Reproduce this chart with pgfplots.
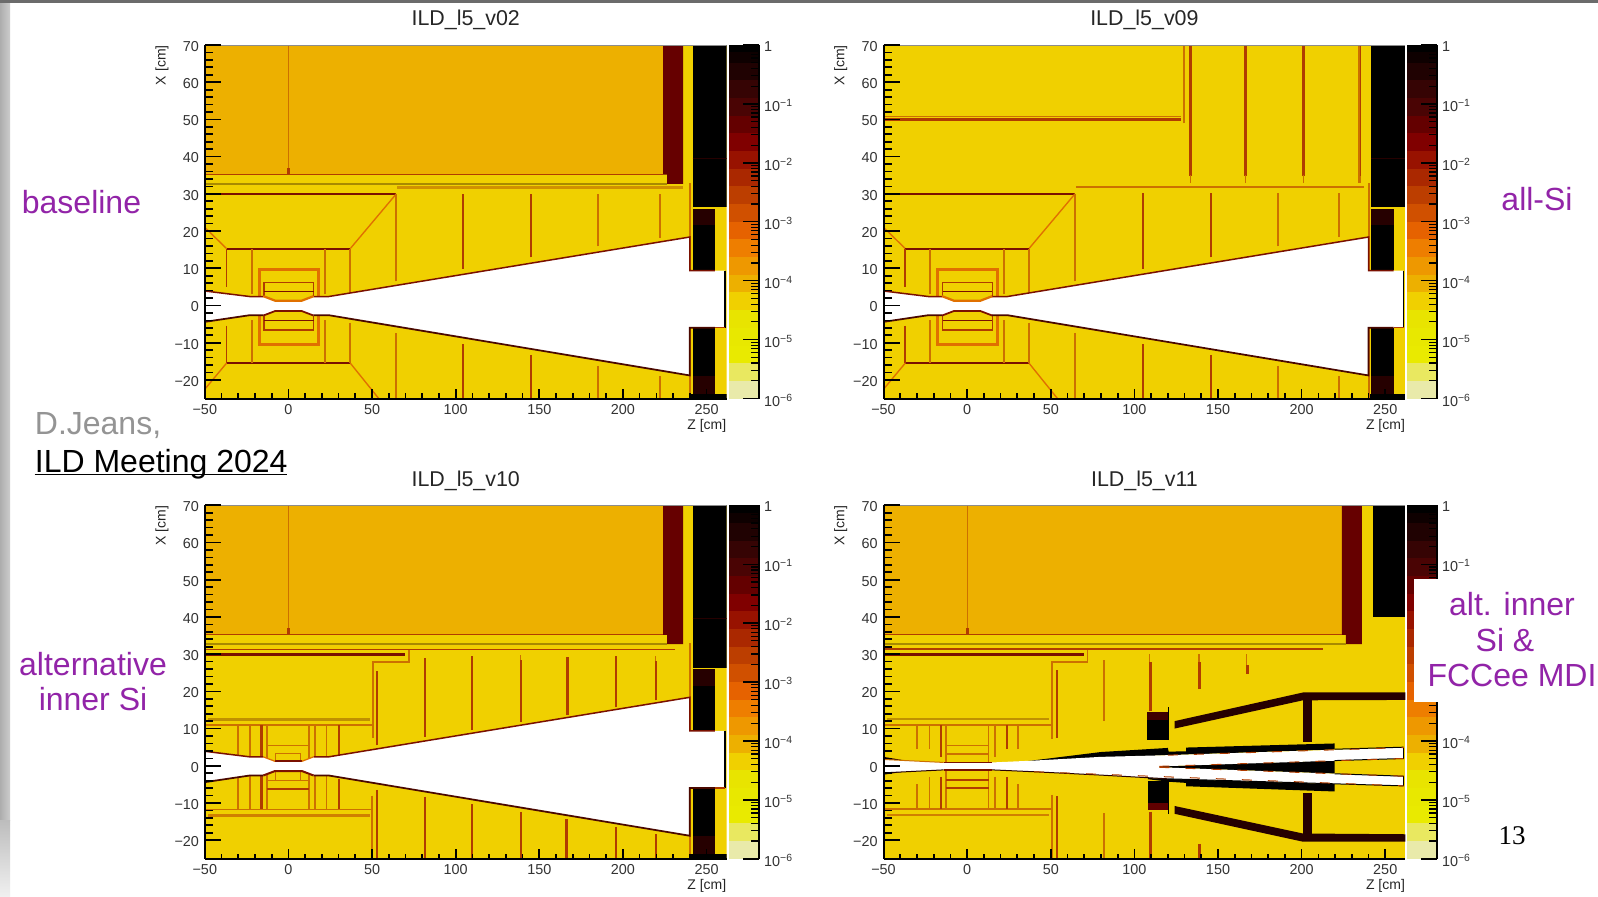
\documentclass[border=0pt]{standalone}
\usepackage{fontspec}
\setmainfont{Liberation Sans}
\newfontfamily\serifnum{Liberation Serif}
\usepackage{pgfplots}
\pgfplotsset{compat=1.18}
\definecolor{Y}{HTML}{F0D000}
\definecolor{O}{HTML}{EDB000}
\definecolor{R}{HTML}{660000}
\definecolor{La}{HTML}{CC7000}
\definecolor{Lb}{HTML}{B03C00}
\definecolor{Lc}{HTML}{7A1000}
\definecolor{Lo}{HTML}{E07000}
\definecolor{Ol}{HTML}{A88A00}
\definecolor{Kd}{HTML}{260000}
\definecolor{Ke}{HTML}{4A0800}
\definecolor{Pur}{HTML}{9224A8}
\newcommand{\blk}[2]{\addplot[fill=#1,draw=none,forget plot] coordinates {#2};}
\newcommand{\lin}[3]{\addplot[draw=#1,line width=1.25*#2,forget plot] coordinates {#3};}
\newcommand{\vl}[5]{\addplot[draw=#1,line width=1.25*#2,forget plot] coordinates {(#3,#4)(#3,#5)};}
\newcommand{\ex}[1]{10\raisebox{0.62ex}{\fontsize{5.2}{6}\selectfont #1}}
\pgfplotsset{
 panel/.style={
  scale only axis, width=260.9pt, height=176.75pt, anchor=north west,
  xmin=-50, xmax=262, ymin=-25, ymax=70,
  axis x line=bottom, axis y line=left, axis on top,
  axis line style={-,line width=1pt,black},
  tick align=inside,
  xtick={-50,0,50,100,150,200,250},
  xticklabels={−50,0,50,100,150,200,250},
  ytick={-20,-10,0,10,20,30,40,50,60,70},
  yticklabels={−20,−10,0,10,20,30,40,50,60,70},
  minor x tick num=4, minor y tick num=4,
  xtick style={black,line width=.85pt,/pgfplots/major tick length=5pt,/pgfplots/minor tick length=2.6pt},
  ytick style={black,line width=.85pt,/pgfplots/major tick length=8pt,/pgfplots/minor tick length=4pt},
  minor x tick style={black,line width=.85pt},
  minor y tick style={black,line width=.85pt},
  tick label style={font=\fontsize{7.2}{8}\selectfont,text=black!80},
  xticklabel style={yshift=.5pt},
  yticklabel style={xshift=.6pt,yshift=-.7pt},
  title style={font=\fontsize{10.7}{12}\selectfont,at={(rel axis cs:0.5,1)},anchor=south,yshift=-2.1pt,text=black!85},
  xlabel={Z [cm]}, ylabel={X [cm]},
  every axis x label/.style={at={(rel axis cs:1,0)},anchor=north east,inner sep=0pt,yshift=-10pt,font=\fontsize{7}{8}\selectfont,text=black!85},
  every axis y label/.style={at={(rel axis cs:0,1)},rotate=90,anchor=east,inner sep=0pt,yshift=21.4pt,font=\fontsize{7}{8}\selectfont,text=black!85},
 },
 colbar/.style={
  scale only axis, width=15.2pt, height=176.75pt, anchor=north west,
  xmin=0, xmax=1, ymin=1e-6, ymax=1,
  hide x axis, axis y line=right, axis on top,
  axis line style={-,line width=.7pt,black},
  tick align=inside,
  ytick={1e-6,1e-5,1e-4,1e-3,1e-2,1e-1,1},
  yticklabels={\ex{−6},\ex{−5},\ex{−4},\ex{−3},\ex{−2},\ex{−1},1},
  ytick style={black,line width=.7pt,/pgfplots/major tick length=8pt,/pgfplots/minor tick length=4pt},
  minor y tick style={black,line width=.6pt},
  tick label style={font=\fontsize{7.2}{8}\selectfont,text=black!80},
  yticklabel style={xshift=-1pt,yshift=-.8pt},
 }
}
\newcommand{\band}[3]{\addplot[fill=#1,draw=none,forget plot] coordinates {(0,#2)(1,#2)(1,#3)(0,#3)};}
\definecolor{qa}{HTML}{E9EAAA}\definecolor{qb}{HTML}{E9E860}\definecolor{qc}{HTML}{E9EA00}
\definecolor{qd}{HTML}{E8E800}\definecolor{qe}{HTML}{E8E400}\definecolor{qf}{HTML}{F0D000}
\definecolor{qg}{HTML}{EDB000}\definecolor{qh}{HTML}{EE9800}\definecolor{qi}{HTML}{EE7E00}
\definecolor{qj}{HTML}{E66200}\definecolor{qk}{HTML}{D05000}\definecolor{ql}{HTML}{BC3E00}
\definecolor{qm}{HTML}{AA2800}\definecolor{qn}{HTML}{981200}\definecolor{qo}{HTML}{800000}
\definecolor{qp}{HTML}{640000}\definecolor{qq}{HTML}{4A0404}\definecolor{qr}{HTML}{360404}
\definecolor{qs}{HTML}{200202}\definecolor{qt}{HTML}{0E0000}
\newcommand{\bars}{%
 \band{qa}{1e-6}{1.995e-6}
 \band{qb}{1.995e-6}{3.98e-6}
 \band{qc}{3.98e-6}{7.94e-6}
 \band{qd}{7.94e-6}{1.585e-5}
 \band{qe}{1.585e-5}{3.16e-5}
 \band{qf}{3.16e-5}{6.31e-5}
 \band{qg}{6.31e-5}{1.26e-4}
 \band{qh}{1.26e-4}{2.51e-4}
 \band{qi}{2.51e-4}{5.01e-4}
 \band{qj}{5.01e-4}{1e-3}
 \band{qk}{1e-3}{1.995e-3}
 \band{ql}{1.995e-3}{3.98e-3}
 \band{qm}{3.98e-3}{7.94e-3}
 \band{qn}{7.94e-3}{1.585e-2}
 \band{qo}{1.585e-2}{3.16e-2}
 \band{qp}{3.16e-2}{6.31e-2}
 \band{qq}{6.31e-2}{0.126}
 \band{qr}{0.126}{0.251}
 \band{qs}{0.251}{0.501}
 \band{qt}{0.501}{0.75}
 \band{black}{0.75}{1}
}
% outer calorimeter region with orange fill (v02, v10, v11)
\newcommand{\topcal}{%
 \blk{O}{(-50,35.2)(224,35.2)(224,70)(-50,70)}
 \blk{R}{(224,70)(236,70)(236,32.7)(226.5,32.7)(226.5,35.2)(224,35.2)}
 \vl{La}{.5pt}{0}{35.2}{70}
 \vl{Lb}{1.2pt}{0}{35.2}{37}
 \lin{Lb}{.5pt}{(-50,35.2)(224,35.2)}
 \lin{Ol}{.6pt}{(-50,32.7)(226.5,32.7)}
}
\newcommand{\topedge}{\addplot[draw=black!45,line width=.5pt,forget plot] coordinates {(-50,70)(262,70)};}
% end-cap blocks and white beam pipe (v02, v09, v10)
\newcommand{\ecap}{%
 \blk{black}{(241.7,26.4)(262,26.4)(262,70)(241.7,70)}
 \lin{Kd}{.3pt}{(241.7,39.5)(262,39.5)}
 \blk{Kd}{(241.7,21.5)(255,21.5)(255,25.9)(241.7,25.9)}
 \blk{black}{(241.7,9.6)(255,9.6)(255,21.5)(241.7,21.5)}
 \blk{black}{(241.7,-6)(255,-6)(255,-19)(241.7,-19)}
 \blk{Kd}{(241.7,-19)(255,-19)(255,-23.7)(241.7,-23.7)}
 \blk{black}{(240,-23.8)(262,-23.8)(262,-25)(240,-25)}
 \vl{La}{.8pt}{240}{9.4}{33}
 \vl{La}{.8pt}{240}{-6}{-25}
 \blk{white}{(-50,3.9)(-23,2.4)(-15,2.4)(-8,1.2)(8,1.2)(15,2.4)(24,2.4)(240,18.4)(240,9.4)(261,9.4)(261,-6)(240,-6)(240,-18.8)(24,-2.6)(15,-2.6)(8,-1.4)(-8,-1.4)(-15,-2.6)(-23,-2.6)(-50,-4.4)}
 \lin{Lc}{.6pt}{(-50,3.9)(-23,2.4)(-15,2.4)}
 \lin{Lc}{.6pt}{(15,2.4)(24,2.4)(240,18.4)(240,9.4)(255,9.4)}
 \lin{Ke}{.7pt}{(-50,-4.4)(-23,-2.6)(-15,-2.6)}
 \lin{Ke}{.7pt}{(15,-2.6)(24,-2.6)(240,-18.8)(240,-6)(255,-6)}
 \lin{black}{.5pt}{(261,9.4)(261,-6)}
 \lin{Lb}{.5pt}{(255,-6)(261,-6)}
 \topedge
}
% baseline inner detector (v02, v09)
\newcommand{\vxdA}{%
 \lin{Lc}{.8pt}{(-48.7,30)(64.5,30)}
 \lin{Lo}{.55pt}{(-50,21)(-37,15.3)}
 \lin{Lo}{.55pt}{(37,15.3)(64.5,30)}
 \lin{Lc}{.8pt}{(-37,15.3)(37,15.3)}
 \lin{Lc}{.8pt}{(-37,-15.5)(37,-15.5)}
 \lin{Lo}{.55pt}{(-37,-15.5)(-50,-22.5)}
 \lin{Lo}{.55pt}{(37,-15.5)(54,-25)}
 \vl{Lb}{.7pt}{-37}{5}{15.3}
 \vl{La}{.7pt}{-22}{3}{15.3}
 \vl{La}{.7pt}{22}{3}{15.3}
 \vl{La}{.7pt}{37}{2.8}{15.3}
 \vl{Lb}{.7pt}{-37}{-5.4}{-15.5}
 \vl{La}{.7pt}{-22}{-4}{-15.5}
 \vl{La}{.7pt}{22}{-4}{-15.5}
 \vl{La}{.7pt}{37}{-4.6}{-15.5}
 \vl{La}{.7pt}{64.5}{6.5}{30}
 \vl{La}{.7pt}{64.5}{-7.4}{-25}
 \lin{Lo}{1.1pt}{(-17.5,2.6)(-17.5,9.7)(18,9.7)(18,2.6)}
 \lin{Lo}{1.1pt}{(-17.5,-2.8)(-17.5,-10.4)(18,-10.4)(18,-2.8)}
 \lin{Lb}{.55pt}{(-14.7,2.6)(-14.7,6.1)(15,6.1)(15,2.6)}
 \lin{Lc}{.6pt}{(-14.7,3.7)(15,3.7)}
 \lin{Lb}{.55pt}{(-14.7,-2.8)(-14.7,-6.6)(15,-6.6)(15,-2.8)}
 \lin{Lc}{.6pt}{(-14.7,-4.1)(15,-4.1)}
}
\newcommand{\vxdApipe}{%
 \lin{Lo}{.9pt}{(-15,2.5)(-8,1.3)(8,1.3)(15,2.5)}
 \lin{Lc}{.7pt}{(-15,-2.7)(-8,-1.5)(8,-1.5)(15,-2.7)}
}
\definecolor{Ca}{HTML}{C09000}
\definecolor{Da}{HTML}{D08000}
\definecolor{Db}{HTML}{D09000}
\definecolor{Ka}{HTML}{400000}
\definecolor{Kb}{HTML}{600000}
% alternative inner silicon, common part (v10, v11)
\newcommand{\vxdB}{%
 \lin{Lb}{.55pt}{(-50,31.2)(231,31.2)}
 \lin{Lc}{1.1pt}{(-49,30)(70,30)}
 \lin{La}{.7pt}{(72,31)(72,27.8)(50.5,27.8)(50.5,7.4)}
 \vl{Lb}{1pt}{53}{5.5}{25.5}
 \vl{La}{1pt}{50}{-8}{-25}
 \vl{Lb}{1pt}{53}{-6.5}{-25}
 \lin{Ca}{1pt}{(-48,12.5)(49,12.5)}
 \lin{La}{.6pt}{(-50,11)(50.5,11)}
 \lin{La}{.6pt}{(-50,-11.7)(50.5,-11.7)}
 \lin{Da}{1pt}{(-48,-13.3)(49,-13.3)}
}
\begin{document}
\begin{tikzpicture}[x=0.5pt,y=-0.5pt]
\path[use as bounding box,fill=white] (0,0) rectangle (1598,896);
\fill[left color=black!32,right color=black!20] (0,0) rectangle (10,820);
\fill[top color=black!26,bottom color=black!6] (0,820) rectangle (10,896);
\fill[black!58] (0,0) rectangle (1598,3);

% ---------- v02
\begin{axis}[panel,at={(102.4pt,-22.5pt)},title={ILD\_l5\_v02}]
 \blk{Y}{(-50,-25)(262,-25)(262,70)(-50,70)}
 \topcal
 \lin{Db}{1pt}{(65,31.7)(236,31.7)}
 \vl{Lb}{.7pt}{104.5}{9.9}{30}
 \vl{Lb}{.7pt}{145}{12.9}{30}
 \vl{La}{.7pt}{185}{15.9}{30}
 \vl{La}{.7pt}{222}{18.2}{30}
 \vl{Lb}{.7pt}{104.5}{-10.4}{-25}
 \vl{Lb}{.7pt}{145}{-13.3}{-25}
 \vl{La}{.7pt}{185}{-16.2}{-25}
 \vl{La}{.7pt}{222}{-19}{-25}
 \vxdA
 \ecap
 \vxdApipe
\end{axis}
\begin{axis}[ymode=log,colbar,at={(364.35pt,-22.5pt)}] \bars \end{axis}

% ---------- v09
\begin{axis}[panel,at={(441.75pt,-22.5pt)},title={ILD\_l5\_v09}]
 \blk{Y}{(-50,-25)(262,-25)(262,70)(-50,70)}
 \lin{La}{.6pt}{(-50,50.8)(128,50.8)}
 \lin{Lb}{1.1pt}{(-50,50)(128,50)}
 \vl{La}{.7pt}{129.6}{49}{70}
 \vl{Lb}{1pt}{133.6}{34.9}{70}
 \vl{La}{.6pt}{133.6}{33}{35}
 \vl{Lb}{1pt}{166.3}{34.9}{70}
 \vl{La}{.6pt}{166.3}{33}{35}
 \vl{Lb}{1pt}{201.2}{34.9}{70}
 \vl{La}{.6pt}{201.2}{33}{35}
 \vl{La}{1.2pt}{234.5}{33}{70}
 \vl{Lb}{.6pt}{235.3}{34.9}{70}
 \lin{La}{.7pt}{(65,31.8)(237,31.8)}
 \vl{Lb}{.7pt}{105}{9.9}{30.2}
 \vl{Lb}{.7pt}{145.6}{12.9}{30.2}
 \vl{La}{.7pt}{186}{15.9}{30.2}
 \vl{La}{.7pt}{222.3}{18.4}{30.2}
 \vl{Lb}{.7pt}{105}{-10.4}{-25}
 \vl{Lb}{.7pt}{145.6}{-13.3}{-25}
 \vl{La}{.7pt}{186}{-16.2}{-25}
 \vl{La}{.7pt}{222.3}{-19}{-25}
 \vxdA
 \ecap
 \vxdApipe
\end{axis}
\begin{axis}[ymode=log,colbar,at={(703.3pt,-22.5pt)}] \bars \end{axis}

% ---------- v10
\begin{axis}[panel,at={(102.4pt,-252.65pt)},title={ILD\_l5\_v10}]
 \blk{Y}{(-50,-25)(262,-25)(262,70)(-50,70)}
 \topcal
 \vxdB
 \vl{Lb}{.7pt}{81.7}{7.8}{29}
 \vl{Lb}{.9pt}{109.6}{9.6}{29.5}
 \vl{Lb}{.9pt}{138.9}{11.8}{28.4}
 \vl{La}{.5pt}{138.9}{28.4}{29.8}
 \vl{Lb}{1.2pt}{166.6}{13.6}{29.2}
 \vl{Lb}{.9pt}{196}{15.7}{29.5}
 \vl{Lb}{.9pt}{219.9}{17.6}{28.2}
 \vl{La}{.5pt}{219.4}{28.2}{29.6}
 \vl{Lb}{.7pt}{81.7}{-8.3}{-25}
 \vl{Lb}{.9pt}{109.6}{-10.4}{-25}
 \vl{Lb}{.9pt}{138.9}{-12.4}{-25}
 \vl{Lb}{1.2pt}{166.4}{-14.4}{-25}
 \vl{Lb}{.9pt}{196}{-16.4}{-25}
 \vl{Lb}{.9pt}{219.9}{-18.4}{-25}
 \vl{La}{.7pt}{-30}{2.8}{11}
 \vl{La}{.7pt}{-23}{2.4}{11}
 \vl{Lb}{1pt}{-16}{2.4}{11}
 \vl{La}{.7pt}{-12.8}{2}{11}
 \vl{La}{.7pt}{12.4}{2}{11}
 \vl{La}{.7pt}{16}{2.4}{11}
 \vl{La}{.7pt}{22.7}{2.4}{11}
 \vl{Lb}{.8pt}{30}{2.8}{11}
 \lin{La}{.6pt}{(-12.8,5.4)(12.4,5.4)}
 \lin{La}{.6pt}{(-7.8,1.2)(-7.8,3.3)(7.2,3.3)(7.2,1.2)}
 \vl{La}{.7pt}{-30}{-3.4}{-11.7}
 \vl{La}{.7pt}{-23}{-2.7}{-11.7}
 \vl{Lb}{1pt}{-16}{-2.7}{-11.7}
 \vl{La}{.7pt}{-12.8}{-2.4}{-11.7}
 \vl{La}{.7pt}{12.4}{-2.4}{-11.7}
 \vl{La}{.7pt}{16}{-2.7}{-11.7}
 \vl{La}{.7pt}{22.7}{-2.8}{-11.7}
 \vl{Lb}{.8pt}{30}{-3.5}{-11.7}
 \lin{La}{.6pt}{(-12.8,-4)(12.4,-4)}
 \lin{Lb}{.6pt}{(-12.8,-6.2)(12.4,-6.2)}
 \lin{La}{.6pt}{(-7.8,-1.5)(-7.8,-4)}
 \lin{La}{.6pt}{(7.2,-1.5)(7.2,-4)}
 \ecap
 \lin{Lc}{.7pt}{(-8,1.2)(8,1.2)}
 \lin{Lo}{.5pt}{(-15,2.4)(-8,1.2)}
 \lin{Lo}{.5pt}{(8,1.2)(15,2.4)}
 \lin{Lc}{.8pt}{(-15,-2.6)(-8,-1.4)(8,-1.4)(15,-2.6)}
\end{axis}
\begin{axis}[ymode=log,colbar,at={(364.35pt,-252.65pt)}] \bars \end{axis}

% ---------- v11
\begin{axis}[panel,at={(441.75pt,-252.65pt)},title={ILD\_l5\_v11}]
 \blk{Y}{(-50,-25)(262,-25)(262,70)(-50,70)}
 \topcal
 \blk{black}{(242.5,39.9)(262,39.9)(262,70)(242.5,70)}
 \lin{Lb}{.55pt}{(-50,31.4)(213,31.4)}
 \lin{Lc}{1.1pt}{(-49,30)(70,30)}
 \lin{La}{.7pt}{(72,31)(72,27.9)(50.7,27.9)(50.7,7.2)}
 \vl{Lb}{1pt}{53.7}{7.6}{25.8}
 \vl{La}{1pt}{50.7}{-7.8}{-25}
 \vl{Lb}{1pt}{53.7}{-8.2}{-25}
 \lin{Ca}{1pt}{(-48,12.6)(49,12.6)}
 \lin{La}{.6pt}{(-50,11)(51,11)}
 \lin{La}{.6pt}{(-50,-11.6)(51,-11.6)}
 \lin{Da}{1pt}{(-48,-13.2)(49,-13.2)}
 \vl{La}{.7pt}{82}{12}{28.5}
 \vl{La}{.5pt}{109}{28}{30}
 \vl{Lb}{.9pt}{109.6}{14.6}{28}
 \vl{Lb}{1pt}{139}{20.6}{28}
 \vl{La}{.5pt}{138.6}{28}{30}
 \vl{La}{.5pt}{167}{27}{30}
 \vl{Lb}{1pt}{167.5}{24.7}{27}
 \vl{La}{.8pt}{82}{-12.7}{-25}
 \vl{Lb}{.9pt}{109.6}{-12.3}{-25}
 \vl{Lb}{1pt}{139}{-21}{-25}
 % verticals of the inner part
 \vl{La}{.6pt}{-30}{4.5}{11}
 \vl{La}{.6pt}{-22.5}{4.5}{11}
 \vl{Lb}{.9pt}{-15.5}{2.4}{11}
 \vl{La}{.7pt}{-12.5}{1}{11}
 \vl{La}{.7pt}{12.8}{1}{11}
 \vl{La}{.7pt}{16.6}{2.4}{11}
 \vl{Lb}{.8pt}{23.7}{4.5}{11}
 \vl{La}{.7pt}{30.6}{4.5}{11}
 \lin{La}{.6pt}{(-12.5,5.5)(12.8,5.5)}
 \lin{La}{.6pt}{(-12.5,3.2)(12.8,3.2)}
 \vl{La}{.6pt}{-30}{-5}{-11.6}
 \vl{La}{.6pt}{-22.5}{-3}{-11.6}
 \vl{Lb}{.9pt}{-15.5}{-3}{-11.6}
 \vl{La}{.7pt}{-12.5}{-1.2}{-11.6}
 \vl{La}{.7pt}{12.8}{-1.2}{-11.6}
 \vl{La}{.7pt}{16.6}{-2.9}{-11.6}
 \vl{Lb}{.8pt}{23.7}{-3}{-11.6}
 \vl{La}{.7pt}{30.6}{-5}{-11.6}
 \lin{Lb}{.6pt}{(-12.5,-3.8)(12.8,-3.8)}
 \lin{Lb}{.6pt}{(-12.5,-6)(12.8,-6)}
 % black masks and cones
 \blk{black}{(107.7,6.9)(120,6.9)(120,12.4)(107.7,12.4)}
 \blk{Ka}{(107.7,12.4)(120,12.4)(120,14.5)(107.7,14.5)}
 \vl{black}{.6pt}{120.3}{6.9}{15.7}
 \blk{black}{(108.4,-4.1)(120,-4.1)(120,-10)(108.4,-10)}
 \blk{Kb}{(108.4,-10)(120,-10)(120,-11.8)(108.4,-11.8)}
 \vl{black}{.6pt}{120.3}{-4.1}{-12.9}
 \blk{Kd}{(124,12)(200.8,19.7)(262,19.7)(262,17.7)(200.8,17.6)(124,10)}
 \blk{Kd}{(201,6.3)(206,6.3)(206,17.8)(201,17.8)}
 \blk{Kd}{(124,-10.8)(200.8,-18.2)(262,-18.4)(262,-20.4)(200.8,-20.4)(124,-12.9)}
 \blk{Kd}{(201,-7.2)(206,-7.2)(206,-18.4)(201,-18.4)}
 \blk{black}{(35,1.2)(80,3.7)(120,4.8)(120.5,3.8)(131,3.9)(131,4.9)(219.7,6)(219.7,4.4)(120,2.85)(35,1.2)}
 \blk{black}{(115,-0.15)(219.7,1.5)(219.7,-2.1)(115,-0.4)}
 \blk{black}{(108,-3.3)(120,-3.5)(219.7,-4.9)(219.7,-6.9)(131,-5.5)(131,-4.6)(121,-4.3)(108,-3.6)}
 \blk{Kd}{(-50,2.4)(-38,1.5)(-50,1.6)}
 \blk{Kd}{(-50,-1.8)(-38,-1.6)(-50,-2.4)}
 % two beam pipes
 \blk{white}{(-50,1.7)(-14,0.9)(15,0.9)(40,1.4)(80,2.4)(120,2.85)(261,4.9)(261,1.96)(115,-0.15)(115,-0.4)(261,-2.8)(261,-5.4)(120,-3.5)(80,-2.5)(40,-1.6)(15,-1.1)(-14,-1.1)(-50,-1.9)}
 \lin{Lc}{.7pt}{(-14,0.9)(15,0.9)}
 \lin{Lc}{.7pt}{(-14,-1.1)(15,-1.1)}
 \lin{La}{.4pt}{(-50,1.7)(-14,0.9)}
 \lin{Kd}{.4pt}{(-50,-1.9)(-14,-1.1)}
 \lin{Kd}{.4pt}{(15,-1.1)(40,-1.6)(80,-2.5)(120,-3.5)}
 \lin{black}{.4pt}{(219.7,4.45)(261,5)}
 \lin{black}{.4pt}{(219.7,1.4)(261,1.96)}
 \lin{black}{.4pt}{(219.7,-2.15)(261,-2.8)}
 \lin{black}{.4pt}{(120,-3.5)(261,-5.4)}
 \vl{black}{.4pt}{261}{1.96}{4.9}
 \vl{black}{.4pt}{261}{-2.8}{-5.4}
 \addplot[draw=Lb,line width=.5pt,dash pattern=on 5pt off 8pt,forget plot] coordinates {(120,2.85)(261,4.9)};
 \addplot[draw=Lb,line width=.5pt,dash pattern=on 5pt off 8pt,forget plot] coordinates {(115,-0.15)(261,1.96)};
 \addplot[draw=Lb,line width=.5pt,dash pattern=on 5pt off 8pt,forget plot] coordinates {(115,-0.4)(261,-2.8)};
 \addplot[draw=Lb,line width=.5pt,dash pattern=on 5pt off 8pt,forget plot] coordinates {(40,-1.6)(261,-5.4)};
 \topedge
\end{axis}
\begin{axis}[ymode=log,colbar,at={(703.3pt,-252.65pt)},yticklabels={\ex{−6},\ex{−5},\ex{−4},,,\ex{−1},1}] \bars \end{axis}

% ---------- slide annotations
\fill[white] (1414,578.5) rectangle (1598,701.5);
\tikzset{sl/.style={font=\fontsize{16}{18}\selectfont,inner sep=0pt}}
\node[sl,text=Pur] at (81.5,202) {baseline};
\node[sl,text=Pur] at (1537,199) {all-Si};
\node[sl,text=black!42,anchor=west] at (34.5,425.5) {D.Jeans,};
\node[sl,text=black,anchor=west] at (34.5,464) {ILD Meeting 2024};
\draw[line width=.8pt] (34.5,474.5) -- (286.5,474.5);
\node[sl,text=Pur] at (93,664) {alternative};
\node[sl,text=Pur] at (93,699) {inner Si};
\node[sl,text=Pur] at (1512,604) {alt. inner};
\node[sl,text=Pur] at (1505,640) {Si \&};
\node[sl,text=Pur] at (1512,675) {FCCee MDI};
\node[inner sep=0pt,font=\serifnum\fontsize{13.5}{15}\selectfont] at (1512,836) {13};
\end{tikzpicture}
\end{document}
